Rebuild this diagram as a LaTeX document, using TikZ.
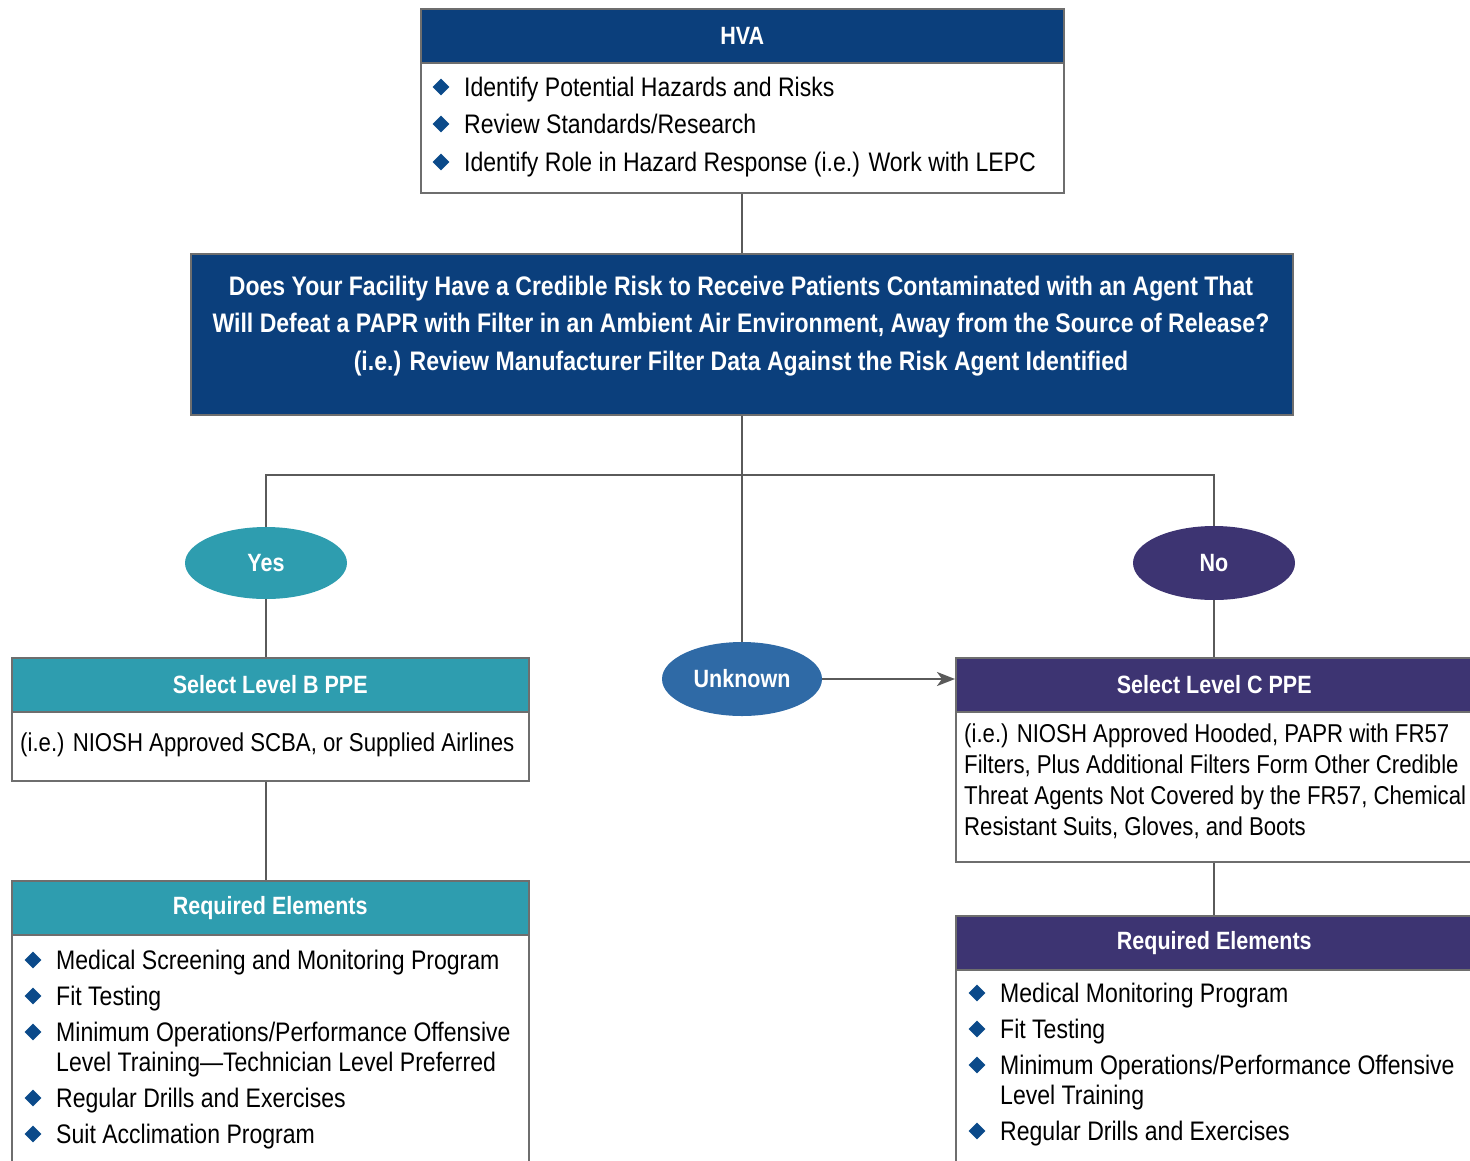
\documentclass[tikz,border=0pt]{standalone}
\usepackage{fontspec}
\setmainfont{Liberation Sans}[FakeStretch=0.86]
\usetikzlibrary{shapes.geometric,arrows.meta}
\definecolor{hvablue}{HTML}{0B3F7C}
\definecolor{yesteal}{HTML}{2E9DAF}
\definecolor{nopurple}{HTML}{3D3472}
\definecolor{unkblue}{HTML}{2F6AA6}
\definecolor{bulletblue}{HTML}{0B4A8A}
\definecolor{edgegrey}{HTML}{5A5A5A}
\definecolor{boxgrey}{HTML}{6E6E6E}
\tikzset{
  hdr/.style={draw=boxgrey, line width=1.5, anchor=north west, inner sep=0, text=white,
    font=\bfseries\fontsize{25}{30}\selectfont, minimum height=54},
  bodybox/.style={draw=boxgrey, line width=1.5, fill=white, anchor=north west, inner sep=0},
  txt/.style={anchor=base west, inner sep=0, font=\fontsize{26.8}{30}\selectfont, text=black},
  lvltxt/.style={anchor=base west, inner sep=0, font=\fontsize{25.8}{30}\selectfont, text=black},
  bul/.style={diamond, fill=bulletblue, inner sep=0, minimum size=17},
  oval/.style={ellipse, inner sep=0, text=white, font=\bfseries\fontsize{25}{30}\selectfont},
  conn/.style={draw=edgegrey, line width=2.5},
}
\begin{document}
\begin{tikzpicture}[x=1pt,y=-1pt]
\useasboundingbox (0,0) rectangle (1470,1160);
\clip (0,0) rectangle (1470,1160);
% HVA
\node[hdr, fill=hvablue, minimum width=643] (hvah) at (420,8) {HVA};
\node[bodybox, minimum width=643, minimum height=130] (hvab) at (420,62) {};
\node[bul] (hb1) at (441,87) {};
\node[bul] (hb2) at (441,124) {};
\node[bul] (hb3) at (441,162) {};
\node[txt] (ht1) at (464,96) {Identify Potential Hazards and Risks};
\node[txt] (ht2) at (464,133) {Review Standards/Research};
\node[txt] (ht3) at (464,171) {Identify Role in Hazard Response (i.e.) Work with LEPC};
% Question
\node[draw=boxgrey, line width=1.5, fill=hvablue, anchor=north west, inner sep=0,
  minimum width=1102, minimum height=161] (q) at (190,253) {};
\node[align=center, text=white, inner sep=0, font=\bfseries\fontsize{26.8}{37.5}\selectfont] (qt) at (741,326)
  {Does Your Facility Have a Credible Risk to Receive Patients Contaminated with an Agent That\\
   Will Defeat a PAPR with Filter in an Ambient Air Environment, Away from the Source of Release?\\
   (i.e.) Review Manufacturer Filter Data Against the Risk Agent Identified};
\draw[conn] (hvab.south -| q.north) -- (q.north);
% Ovals
\node[oval, fill=yesteal, minimum width=162, minimum height=72] (yes) at (266,563) {Yes};
\node[oval, fill=nopurple, minimum width=162, minimum height=74] (no) at (1214,563) {No};
\node[oval, fill=unkblue, minimum width=160, minimum height=74] (unk) at (742,679) {Unknown};
\coordinate (jl) at (266,475);
\coordinate (jr) at (1214,475);
\draw[conn] (q.south -| unk.north) -- (unk.north);
\draw[conn] (yes.north) -- (jl) -- (jr) -- (no.north);
% Level B
\node[hdr, fill=yesteal, minimum width=517] (lbh) at (11,657) {Select Level B PPE};
\node[bodybox, minimum width=517, minimum height=69] (lbb) at (11,711) {};
\node[lvltxt] (lbt) at (20,751) {(i.e.) NIOSH Approved SCBA, or Supplied Airlines};
\draw[conn] (yes.south) -- (yes.south |- lbh.north);
% Required left
\node[hdr, fill=yesteal, minimum width=517] (rlh) at (11,880) {Required Elements};
\node[bodybox, minimum width=517, minimum height=260] (rlb) at (11,934) {};
\draw[conn] (yes.south |- lbb.south) -- (yes.south |- rlh.north);
\node[bul] (lb1) at (33,960) {};
\node[bul] (lb2) at (33,996) {};
\node[bul] (lb3) at (33,1032) {};
\node[bul] (lb4) at (33,1098) {};
\node[bul] (lb5) at (33,1134) {};
\node[txt] (lt1) at (56,969) {Medical Screening and Monitoring Program};
\node[txt] (lt2) at (56,1005) {Fit Testing};
\node[txt] (lt3) at (56,1041) {Minimum Operations/Performance Offensive};
\node[txt] (lt3b) at (56,1071) {Level Training—Technician Level Preferred};
\node[txt] (lt4) at (56,1107) {Regular Drills and Exercises};
\node[txt] (lt5) at (56,1143) {Suit Acclimation Program};
% Level C
\node[hdr, fill=nopurple, minimum width=517] (lch) at (955,657) {Select Level C PPE};
\node[bodybox, minimum width=517, minimum height=150] (lcb) at (955,711) {};
\node[lvltxt] (lct1) at (964,742) {(i.e.) NIOSH Approved Hooded, PAPR with FR57};
\node[lvltxt] (lct2) at (964,773) {Filters, Plus Additional Filters Form Other Credible};
\node[lvltxt] (lct3) at (964,804) {Threat Agents Not Covered by the FR57, Chemical};
\node[lvltxt] (lct4) at (964,835) {Resistant Suits, Gloves, and Boots};
\draw[conn] (no.south) -- (no.south |- lch.north);
\draw[conn, -{Stealth[length=18, width=14, inset=5]}] (unk.east) -- (lch.west |- unk.east);
% Required right
\node[hdr, fill=nopurple, minimum width=517] (rrh) at (955,915) {Required Elements};
\node[bodybox, minimum width=517, minimum height=260] (rrb) at (955,969) {};
\draw[conn] (no.south |- lcb.south) -- (no.south |- rrh.north);
\node[bul] (rb1) at (977,993) {};
\node[bul] (rb2) at (977,1029) {};
\node[bul] (rb3) at (977,1065) {};
\node[bul] (rb4) at (977,1131) {};
\node[txt] (rt1) at (1000,1002) {Medical Monitoring Program};
\node[txt] (rt2) at (1000,1038) {Fit Testing};
\node[txt] (rt3) at (1000,1074) {Minimum Operations/Performance Offensive};
\node[txt] (rt3b) at (1000,1104) {Level Training};
\node[txt] (rt4) at (1000,1140) {Regular Drills and Exercises};
\end{tikzpicture}
\end{document}
